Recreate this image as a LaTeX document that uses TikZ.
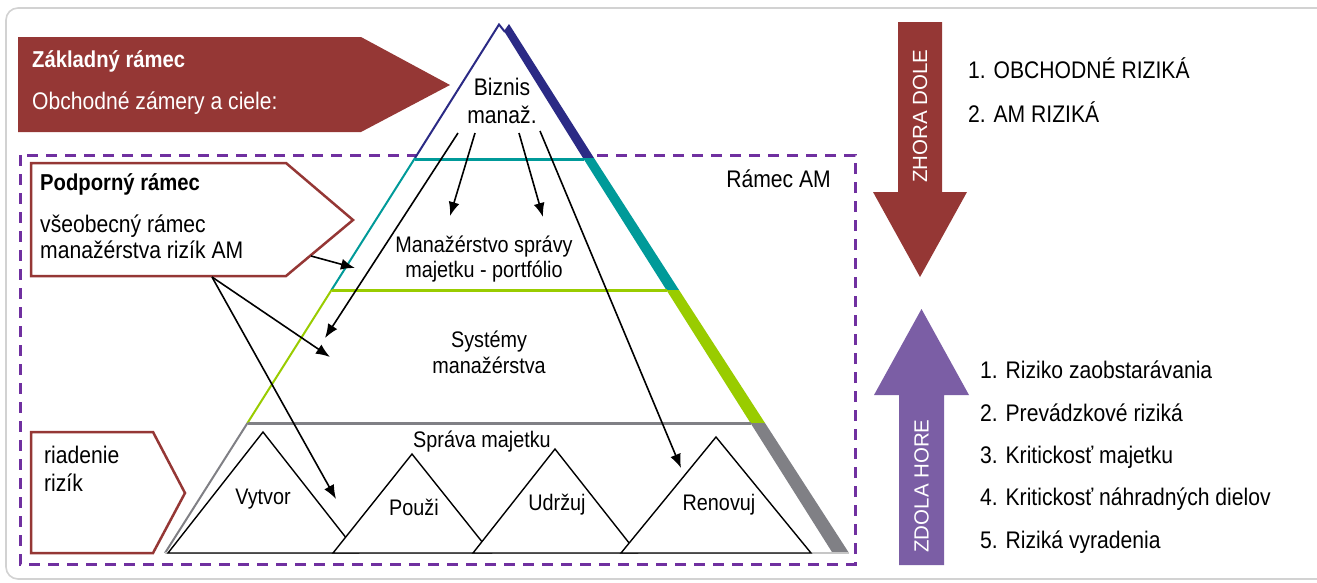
\documentclass[tikz,border=0pt]{standalone}
\usepackage{fontspec}
\setmainfont{Liberation Sans}[FakeStretch=0.88]
\newfontfamily\widefont{Liberation Sans}
\usepackage{tikz}
\usetikzlibrary{arrows.meta}
\usetikzlibrary{positioning}

\definecolor{amred}{HTML}{953735}
\definecolor{ampurple}{HTML}{7B5EA5}
\definecolor{amdash}{HTML}{7030A0}
\definecolor{amnavy}{HTML}{2B2A85}
\definecolor{amteal}{HTML}{009A99}
\definecolor{amgreen}{HTML}{99CC00}
\definecolor{amgray}{HTML}{808085}

\tikzset{
    txt/.style={
           inner sep=0pt,
           anchor=base west,
           font=\fontsize{24}{28}\selectfont,
           },
    boldtxt/.style={
           inner sep=0pt,
           anchor=base west,
           font=\fontsize{23}{27}\selectfont\bfseries,
           },
    pyrtxt/.style={
           inner sep=0pt,
           anchor=base,
           font=\fontsize{22.5}{26}\selectfont,
           },
    vtxt/.style={
           inner sep=0pt,
           rotate=90,
           text=white,
           font=\widefont\fontsize{20.5}{24}\selectfont,
           },
    peak/.style={
           draw=black,
           fill=white,
           line width=1.4pt,
           },
    link/.style={
           -{Latex[length=14pt,width=11pt]},
           line width=1.6pt,
           },
}

\begin{document}
\begin{tikzpicture}[x=1pt, y=-1pt]
	\useasboundingbox (0,0) rectangle (1317,582);
	% frame
	\draw[gray!35, line width=1.6pt, rounded corners=12pt] (6,8) rectangle (1345,579);
	
	% Ramec AM
	\draw[amdash, line width=3pt, dash pattern=on 11pt off 8pt] (20,155) rectangle (855,564);
	
	% pyramid
	\fill[white] (499,24) -- (510,24) -- (849,553) -- (165,553) -- cycle;
	\fill[amnavy]  (504,31) -- (509,24) -- (594,158) -- (583,158) -- cycle;
	\fill[amteal]  (583,158) -- (594,158) -- (679,290) -- (666.4,290) -- cycle;
	\fill[amgreen] (666.4,290) -- (679,290) -- (765,423) -- (750.5,423) -- cycle;
	\fill[amgray]  (750.5,423) -- (765,423) -- (849,553) -- (832.6,553) -- cycle;
	
	\draw[amnavy, line width=2pt]  (415,158) -- (499,24.5) -- (505,32);
	\draw[amteal, line width=2pt]  (331.5,290) -- (415,158);
	\draw[amteal, line width=3pt]  (415,159) -- (584,159);
	\draw[amgreen, line width=2pt] (247.5,423) -- (331.5,290);
	\draw[amgreen, line width=3pt] (331.5,290) -- (667,290);
	\draw[amgray, line width=2pt]  (165,553) -- (247.5,423);
	\draw[amgray, line width=3pt]  (247.5,423) -- (751,423);
	\draw[gray!45, line width=1.5pt] (165,553) -- (849,553);
	
	% small peaks
	\draw[peak] (168,553) -- (263,432) -- (358,553) -- cycle;
	\draw[peak] (333,553) -- (412,454) -- (491,553) -- cycle;
	\draw[peak] (473,553) -- (555,449) -- (637,553) -- cycle;
	\draw[peak] (621,553) -- (716,437) -- (811,553) -- cycle;
	
	\node[pyrtxt, font=\fontsize{24}{28}\selectfont] (biz1) at (502,95) {Biznis};
	\node[pyrtxt, font=\fontsize{24}{28}\selectfont] (biz2) at (502,123) {manaž.};
	\node[pyrtxt] (port1) at (484,252) {Manažérstvo správy};
	\node[pyrtxt] (port2) at (484,277) {majetku - portfólio};
	\node[pyrtxt] (sys1) at (489,347) {Systémy};
	\node[pyrtxt] (sys2) at (489,373) {manažérstva};
	\node[pyrtxt] (sprava) at (482,447) {Správa majetku};
	\node[pyrtxt] (vytvor) at (263,504) {Vytvor};
	\node[pyrtxt] (pouzi) at (414,515) {Použi};
	\node[pyrtxt] (udrzuj) at (557,510) {Udržuj};
	\node[pyrtxt] (renovuj) at (719,510) {Renovuj};
	\node[txt, anchor=base east] (ramec) at (831,187) {Rámec AM};
	
	% left frames
	\fill[amred] (18,37) -- (361,37) -- (450,85) -- (361,132) -- (18,132) -- cycle;
	\draw[amred, line width=2.5pt, fill=white] (31,163) -- (286,163) -- (353,220) -- (286,276) -- (31,276) -- cycle;
	\draw[amred, line width=2.5pt, fill=white] (31,432) -- (153,432) -- (185,493) -- (153,553) -- (31,553) -- cycle;
	
	\node[boldtxt, text=white] (zaklad) at (32,67) {Základný rámec};
	\node[txt, text=white] (ciele) at (32,109) {Obchodné zámery a ciele:};
	\node[boldtxt] (podpora) at (40,190) {Podporný rámec};
	\node[txt] (vseob1) at (40,232) {všeobecný rámec};
	\node[txt] (vseob2) at (40,258) {manažérstva rizík AM};
	\node[txt] (riad1) at (44,463) {riadenie};
	\node[txt] (riad2) at (44,491) {rizík};
	
	% right side
	\fill[amred] (898,22) -- (942,22) -- (942,192) -- (967,192) -- (920,277) -- (873,192) -- (898,192) -- cycle;
	\fill[ampurple] (899,565) -- (944,565) -- (944,395) -- (969,395) -- (921.5,309) -- (874,395) -- (899,395) -- cycle;
	\node[vtxt] (zhora) at (920,116) {ZHORA DOLE};
	\node[vtxt] (zdola) at (921.5,486) {ZDOLA HORE};
	
	\node[txt] (top1) at (968,78) {1. OBCHODNÉ RIZIKÁ};
	\node[txt] (top2) at (968,122) {2. AM RIZIKÁ};
	\node[txt] (bot1) at (980,378) {1. Riziko zaobstarávania};
	\node[txt] (bot2) at (980,421) {2. Prevádzkové riziká};
	\node[txt] (bot3) at (980,463) {3. Kritickosť majetku};
	\node[txt] (bot4) at (980,505) {4. Kritickosť náhradných dielov};
	\node[txt] (bot5) at (980,548) {5. Riziká vyradenia};
	
	% connectors
	\coordinate (s1) at (458,133);
	\coordinate (s2) at (475,133);
	\coordinate (s3) at (519,133);
	\coordinate (s4) at (540,131);
	\coordinate (p1) at (311,256);
	\coordinate (p2) at (212,277);
	\coordinate (e1) at (325,338);
	\coordinate (e2) at (450,216);
	\coordinate (e3) at (543,217);
	\coordinate (e4) at (681,468);
	\coordinate (e5) at (355,268);
	\coordinate (e6) at (330,357);
	\coordinate (e7) at (336,499);
	
	\draw[link] (s1) -- (e1);
	\draw[link] (s2) -- (e2);
	\draw[link] (s3) -- (e3);
	\draw[link] (s4) -- (e4);
	\draw[link] (p1) -- (e5);
	\draw[link] (p2) -- (e6);
	\draw[link] (p2) -- (e7);
\end{tikzpicture}
\end{document}
